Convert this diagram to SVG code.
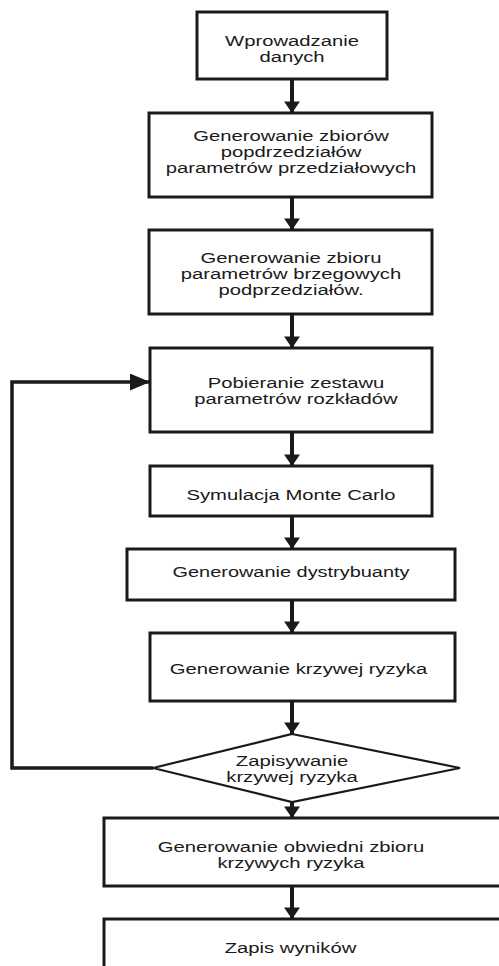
<svg xmlns="http://www.w3.org/2000/svg" width="499" height="966" viewBox="0 0 499 966">
<style>
.box{fill:#fff;stroke:#1a1a1a;stroke-width:3}
.dia{fill:#fff;stroke:#1a1a1a;stroke-width:2.2}
.t{font-family:"Liberation Sans",Arial,sans-serif;font-size:15px;fill:#1a1a1a;text-anchor:middle}
.ln{fill:none;stroke:#1a1a1a;stroke-width:4}
.lp{fill:none;stroke:#1a1a1a;stroke-width:3.5}
</style>
<defs>
<marker id="ah" markerUnits="userSpaceOnUse" markerWidth="22" markerHeight="16" refX="15" refY="10.5" orient="auto" viewBox="0 0 15 21">
<path d="M0,0 L15,10.5 L0,21 Z" fill="#1a1a1a"/>
</marker>
<marker id="ah2" markerUnits="userSpaceOnUse" markerWidth="20" markerHeight="17" refX="20" refY="8.5" orient="auto" viewBox="0 0 20 17">
<path d="M0,0 L20,8.5 L0,17 Z" fill="#1a1a1a"/>
</marker>
</defs>
<rect width="499" height="966" fill="#fff"/>
<g id="connectors">
<line class="ln" x1="292" y1="79" x2="292" y2="113" marker-end="url(#ah)"/>
<line class="ln" x1="292" y1="197" x2="292" y2="230" marker-end="url(#ah)"/>
<line class="ln" x1="292" y1="314" x2="292" y2="348" marker-end="url(#ah)"/>
<line class="ln" x1="292" y1="432" x2="292" y2="466" marker-end="url(#ah)"/>
<line class="ln" x1="292" y1="516" x2="292" y2="549" marker-end="url(#ah)"/>
<line class="ln" x1="292" y1="600" x2="292" y2="633" marker-end="url(#ah)"/>
<line class="ln" x1="292" y1="701" x2="292" y2="734" marker-end="url(#ah)"/>
<line class="ln" x1="292" y1="802" x2="292" y2="818" marker-end="url(#ah)"/>
<line class="ln" x1="292" y1="886" x2="292" y2="919" marker-end="url(#ah)"/>
<polyline class="lp" points="153,768 12,768 12,382 150,382" marker-end="url(#ah2)"/>
</g>
<g id="n1">
<rect class="box" x="197" y="12" width="190" height="67"/>
<text class="t" transform="translate(292,46) scale(1.35,1)"><tspan x="0">Wprowadzanie</tspan><tspan x="0" dy="16">danych</tspan></text>
</g>
<g id="n2">
<rect class="box" x="149" y="113" width="283" height="84"/>
<text class="t" transform="translate(291,141) scale(1.35,1)"><tspan x="0">Generowanie zbiorów</tspan><tspan x="0" dy="16">popdrzedziałów</tspan><tspan x="0" dy="16">parametrów przedziałowych</tspan></text>
</g>
<g id="n3">
<rect class="box" x="149" y="230" width="283" height="84"/>
<text class="t" transform="translate(291,263) scale(1.35,1)"><tspan x="0">Generowanie zbioru</tspan><tspan x="0" dy="16">parametrów brzegowych</tspan><tspan x="0" dy="16">podprzedziałów.</tspan></text>
</g>
<g id="n4">
<rect class="box" x="150" y="348" width="282" height="84"/>
<text class="t" transform="translate(296,388) scale(1.35,1)"><tspan x="0">Pobieranie zestawu</tspan><tspan x="0" dy="16">parametrów rozkładów</tspan></text>
</g>
<g id="n5">
<rect class="box" x="150" y="466" width="282" height="50"/>
<text class="t" transform="translate(291,500) scale(1.35,1)">Symulacja Monte Carlo</text>
</g>
<g id="n6">
<rect class="box" x="127" y="549" width="328" height="51"/>
<text class="t" transform="translate(291,577) scale(1.33,1)">Generowanie dystrybuanty</text>
</g>
<g id="n7">
<rect class="box" x="150" y="633" width="305" height="68"/>
<text class="t" transform="translate(298.5,674) scale(1.35,1)">Generowanie krzywej ryzyka</text>
</g>
<g id="n8">
<polygon class="dia" points="292,734 460,768 292,802 153,768"/>
<text class="t" transform="translate(292,766) scale(1.35,1)"><tspan x="0">Zapisywanie</tspan><tspan x="0" dy="16">krzywej ryzyka</tspan></text>
</g>
<g id="n9">
<rect class="box" x="104" y="818" width="410" height="68"/>
<text class="t" transform="translate(291,852) scale(1.35,1)"><tspan x="0">Generowanie obwiedni zbioru</tspan><tspan x="0" dy="16">krzywych ryzyka</tspan></text>
</g>
<g id="n10">
<rect class="box" x="104" y="919" width="410" height="60"/>
<text class="t" transform="translate(290.5,953) scale(1.35,1)">Zapis wyników</text>
</g>
</svg>
